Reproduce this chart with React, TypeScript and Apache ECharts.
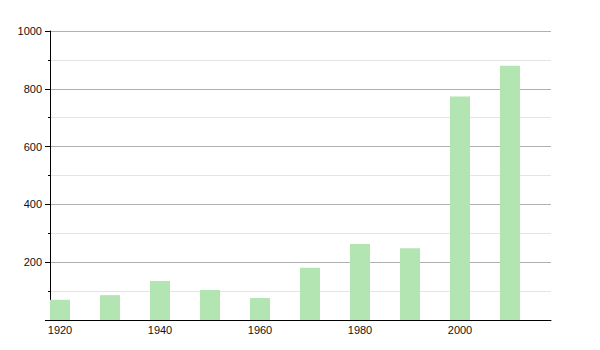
import React, { useEffect, useRef } from "react";
import * as echarts from "echarts";

const years = [1920, 1930, 1940, 1950, 1960, 1970, 1980, 1990, 2000, 2010];
const values = [70, 86, 135, 104, 76, 181, 263, 248, 773, 880];
const xLabelYears = [1920, 1940, 1960, 1980, 2000];

export default function App() {
  const ref = useRef<HTMLDivElement>(null);
  useEffect(() => {
    if (!ref.current) return;
    const chart = echarts.init(ref.current, undefined, { renderer: "svg" });
    chart.setOption({
      animation: false,
      grid: { left: 50, right: 49, top: 31, bottom: 30, containLabel: false },
      xAxis: {
        type: "value",
        min: 1918,
        max: 2018.2,
        axisLine: { show: true, lineStyle: { color: "#000", width: 1 } },
        axisTick: { show: false },
        splitLine: { show: false },
        axisLabel: {
          customValues: xLabelYears,
          color: "#111",
          fontSize: 11,
          fontFamily: "Liberation Sans, Arial, sans-serif",
          margin: 4,
          formatter: (v: number) => String(v),
        },
      },
      yAxis: {
        type: "value",
        min: 0,
        max: 1000,
        interval: 200,
        axisLine: { show: true, lineStyle: { color: "#000", width: 1 } },
        axisTick: { show: true, length: 5, lineStyle: { color: "#000" } },
        minorTick: { show: true, splitNumber: 2, length: 2, lineStyle: { color: "#000" } },
        splitLine: { show: true, lineStyle: { color: "#b0b0b0", width: 1 } },
        minorSplitLine: { show: true, lineStyle: { color: "#e4e4e4", width: 1 } },
        axisLabel: {
          color: "#111",
          fontSize: 11,
          fontFamily: "Liberation Sans, Arial, sans-serif",
          margin: 8,
          showMinLabel: false,
          formatter: (v: number) => (v === 0 ? "" : String(v)),
        },
      },
      series: [
        {
          type: "bar",
          data: years.map((y, i) => [y, values[i]]),
          barWidth: 20,
          itemStyle: { color: "#b2e5b2" },
        },
      ],
    });
    return () => chart.dispose();
  }, []);
  return <div ref={ref} style={{ width: 600, height: 350, margin: -8 }} />;
}
